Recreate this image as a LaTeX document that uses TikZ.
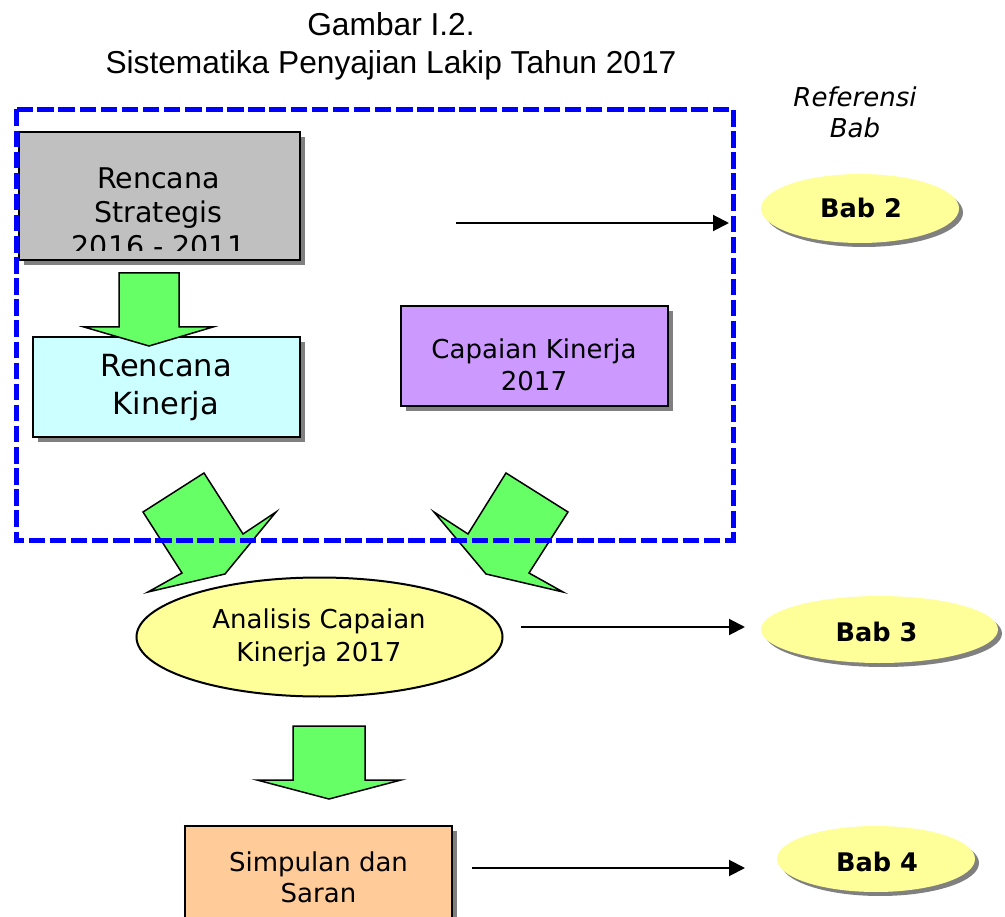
\documentclass[tikz,border=0pt]{standalone}
\usepackage{fontspec}
\setmainfont{DejaVu Sans}
\newfontfamily\titlefont{Liberation Sans}
\usetikzlibrary{arrows.meta,shapes.geometric,shadows}
\definecolor{boxgray}{HTML}{C0C0C0}
\definecolor{boxcyan}{HTML}{CCFFFF}
\definecolor{boxpurple}{HTML}{CC99FF}
\definecolor{boxyellow}{HTML}{FFFF99}
\definecolor{boxorange}{HTML}{FFCC99}
\definecolor{arrowgreen}{HTML}{66FF66}
\definecolor{shadowgray}{HTML}{808080}
\begin{document}
\begin{tikzpicture}[x=1pt,y=-1pt,
  box/.style={draw=black, line width=2pt, rectangle, inner sep=0pt, outer sep=0pt,
    drop shadow={shadow xshift=5pt, shadow yshift=-5pt, fill=shadowgray, opacity=1}},
  babell/.style={ellipse, fill=boxyellow, inner sep=0pt, outer sep=0pt,
    drop shadow={shadow xshift=4pt, shadow yshift=-4pt, fill=shadowgray, opacity=1}},
  txt/.style={anchor=base, inner sep=0pt, outer sep=0pt},
  blockarrow/.style={draw=black, line width=1.5pt, fill=arrowgreen, line join=miter},
  refarrow/.style={draw=black, line width=2pt, -{Triangle[length=16pt, width=16pt]}},
  f26/.style={font=\fontsize{26}{31}\selectfont},
]
\useasboundingbox (0,0) rectangle (1005,917);

% title
\node[txt, font=\titlefont\fontsize{31.7}{38}\selectfont] (t1) at (391,36) {Gambar I.2.};
\node[txt, font=\titlefont\fontsize{31.7}{38}\selectfont] (t2) at (391,74) {Sistematika Penyajian Lakip Tahun 2017};

% Referensi Bab
\node[txt, font=\itshape\fontsize{26}{31}\selectfont] (ref1) at (855,107) {Referensi};
\node[txt, font=\itshape\fontsize{26}{31}\selectfont] (ref2) at (855,138) {Bab};

% boxes
\node[box, fill=boxgray, minimum width=280.5pt, minimum height=128pt] (strat) at (159.25,196.5) {};
\begin{scope}
  \clip (20,134) rectangle (298,251);
  \node[txt, font=\fontsize{28.5}{34}\selectfont] (s1) at (158.5,189) {Rencana};
  \node[txt, font=\fontsize{28.5}{34}\selectfont] (s2) at (158.5,223) {Strategis};
  \node[txt, font=\fontsize{28.5}{34}\selectfont] (s3) at (158.5,257) {2016 - 2011};
\end{scope}

\node[box, fill=boxcyan, minimum width=267pt, minimum height=100pt] (kin) at (166.5,387) {};
\node[txt, font=\fontsize{30.5}{38}\selectfont] (k1) at (166,377) {Rencana};
\node[txt, font=\fontsize{30.5}{38}\selectfont] (k2) at (166,415) {Kinerja};

\node[box, fill=boxpurple, minimum width=266.5pt, minimum height=100.3pt] (cap) at (534.25,356.2) {};
\node[txt, f26] (c1) at (534,359) {Capaian Kinerja};
\node[txt, f26] (c2) at (534,391) {2017};

\node[ellipse, draw=black, line width=2pt, fill=boxyellow, minimum width=366pt, minimum height=119pt, inner sep=0pt] (ana) at (319.5,637) {};
\node[txt, f26] (a1) at (319,628) {Analisis Capaian};
\node[txt, f26] (a2) at (319,661) {Kinerja 2017};

\node[box, fill=boxorange, minimum width=266.7pt, minimum height=110pt] (simp) at (318.65,881) {};
\node[txt, f26] (p1) at (318.5,871) {Simpulan dan};
\node[txt, f26] (p2) at (318.5,902) {Saran};

% Bab ellipses
\node[babell, minimum width=198pt, minimum height=69pt] (bab2) at (860,208.5) {};
\node[txt, font=\bfseries\fontsize{25.6}{31}\selectfont] (b2) at (861,218) {Bab 2};
\node[babell, minimum width=237pt, minimum height=67pt] (bab3) at (879.5,629.5) {};
\node[txt, font=\bfseries\fontsize{25.6}{31}\selectfont] (b3) at (876.5,641) {Bab 3};
\node[babell, minimum width=198pt, minimum height=66pt] (bab4) at (876,859) {};
\node[txt, font=\bfseries\fontsize{25.6}{31}\selectfont] (b4) at (877,871) {Bab 4};

% reference arrows
\coordinate (r2s) at (456,223);
\coordinate (r2e) at (729,223);
\coordinate (r3s) at (521,627);
\coordinate (r3e) at (745,627);
\coordinate (r4s) at (472,868);
\coordinate (r4e) at (745,868);
\draw[refarrow] (r2s) -- (r2e);
\draw[refarrow] (r3s) -- (r3e);
\draw[refarrow] (r4s) -- (r4e);

% green block arrows
\draw[blockarrow] (119,273) -- (179,273) -- (179,327) -- (213,327) -- (149,346) -- (84,327) -- (119,327) -- cycle;
\draw[blockarrow] (143,512) -- (204,473) -- (243,534) -- (276,512) -- (225,574) -- (148,592) -- (182,573) -- cycle;
\draw[blockarrow] (506,473) -- (568,512) -- (529,573) -- (563,592) -- (486,574) -- (434,512) -- (468,534) -- cycle;
\draw[blockarrow] (293,726) -- (365,726) -- (365,780) -- (401,780) -- (329,799) -- (257,780) -- (293,780) -- cycle;

% dashed frame
\draw[draw=blue, line width=5pt, dash pattern=on 16.5pt off 4.6pt] (16.5,109.5) rectangle (733,540.5);
\end{tikzpicture}
\end{document}
